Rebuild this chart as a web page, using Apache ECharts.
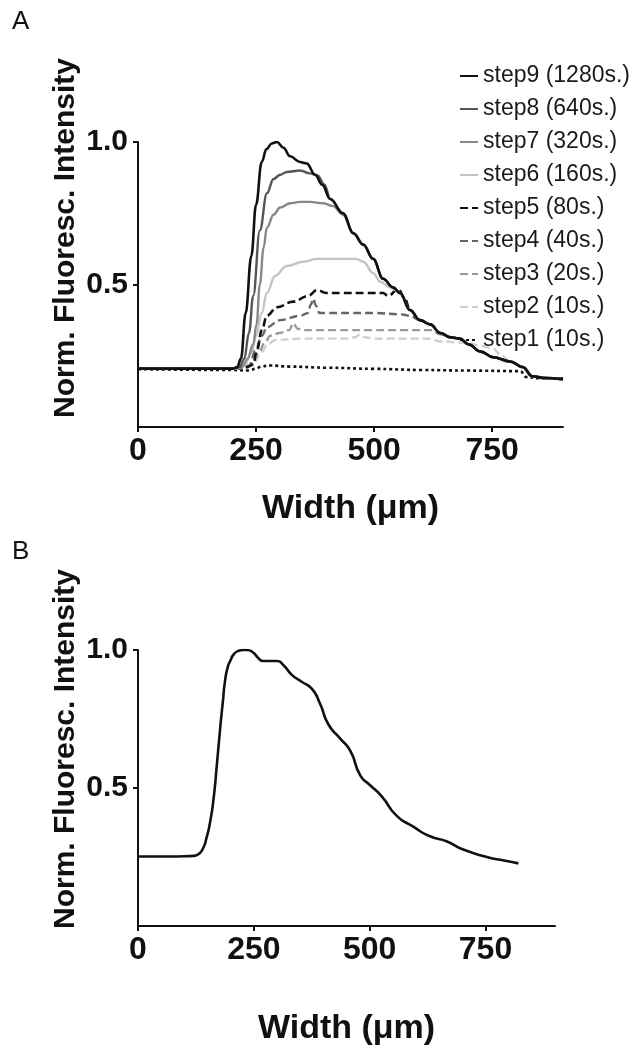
<!DOCTYPE html>
<html><head><meta charset="utf-8">
<script src="https://cdn.jsdelivr.net/npm/echarts@6/dist/echarts.min.js"></script>
<style>html,body{margin:0;padding:0;background:#fff}#c{width:643px;height:1050px}</style>
</head><body><div id="c"></div>
<script>
// ---------- Panel A data (x in µm, y normalized intensity) ----------
const seriesNames = ['step9 (1280s.)','step8 (640s.)','step7 (320s.)','step6 (160s.)','step5 (80s.)','step4 (40s.)','step3 (20s.)','step2 (10s.)','step1 (10s.)'];

const step9X = [0, 100, 200, 210, 218, 228, 240, 250, 262, 272, 283, 294, 308, 322, 343, 357, 375, 390, 407, 434, 456, 477, 498, 519, 540, 555, 576, 597, 619, 640, 661, 682, 700, 725, 752, 788, 815, 835, 860, 900];
const step9Y = [0.205, 0.205, 0.205, 0.21, 0.24, 0.40, 0.60, 0.78, 0.93, 0.975, 0.995, 1.0, 0.98, 0.95, 0.93, 0.925, 0.885, 0.85, 0.80, 0.75, 0.68, 0.64, 0.59, 0.52, 0.49, 0.47, 0.41, 0.375, 0.36, 0.33, 0.315, 0.31, 0.29, 0.265, 0.245, 0.23, 0.21, 0.178, 0.172, 0.168];

const step8X = [0, 200, 215, 225, 235, 244, 258, 273, 287, 301, 315, 343, 364, 380, 395, 407, 434, 456, 477, 498, 519, 540, 555, 576, 597, 619, 640, 661, 682, 700, 725, 752, 788, 815, 835, 860, 900];
const step8Y = [0.205, 0.205, 0.21, 0.24, 0.33, 0.46, 0.69, 0.82, 0.87, 0.885, 0.895, 0.90, 0.89, 0.883, 0.85, 0.80, 0.75, 0.68, 0.64, 0.59, 0.52, 0.49, 0.47, 0.41, 0.375, 0.36, 0.33, 0.315, 0.31, 0.29, 0.265, 0.245, 0.23, 0.21, 0.178, 0.172, 0.168];

const step7X = [0, 205, 220, 232, 244, 251, 258, 266, 273, 287, 301, 322, 343, 364, 392, 413, 434, 456, 477, 498, 519, 540, 555, 576, 597, 619, 640, 661, 682, 700, 725, 752, 788, 815, 835, 860, 900];
const step7Y = [0.205, 0.205, 0.21, 0.24, 0.29, 0.36, 0.50, 0.63, 0.70, 0.745, 0.77, 0.785, 0.79, 0.79, 0.785, 0.775, 0.745, 0.68, 0.64, 0.59, 0.52, 0.49, 0.47, 0.41, 0.375, 0.36, 0.33, 0.315, 0.31, 0.29, 0.265, 0.245, 0.23, 0.21, 0.178, 0.172, 0.168];

const step6X = [0, 210, 225, 240, 250, 262, 273, 290, 315, 350, 379, 428, 462, 477, 498, 513, 534, 545, 555, 576, 597, 619, 640, 661, 682, 700, 725, 752, 788, 815, 835, 860, 900];
const step6Y = [0.205, 0.205, 0.215, 0.26, 0.32, 0.40, 0.47, 0.53, 0.565, 0.58, 0.59, 0.59, 0.59, 0.58, 0.54, 0.51, 0.49, 0.48, 0.47, 0.41, 0.375, 0.36, 0.33, 0.315, 0.31, 0.29, 0.265, 0.245, 0.23, 0.21, 0.178, 0.172, 0.168];

const step5X = [0, 210, 230, 244, 252, 262, 273, 294, 329, 360, 379, 400, 428, 480, 519, 530, 551, 565, 576, 597, 619, 640, 661, 682, 700, 725, 752, 788, 815, 835, 860, 900];
const step5Y = [0.205, 0.205, 0.21, 0.22, 0.27, 0.34, 0.39, 0.42, 0.44, 0.46, 0.48, 0.47, 0.47, 0.47, 0.47, 0.46, 0.485, 0.45, 0.41, 0.375, 0.36, 0.33, 0.315, 0.31, 0.29, 0.265, 0.245, 0.23, 0.21, 0.178, 0.172, 0.168];

const step4X = [0, 215, 235, 251, 262, 273, 301, 343, 360, 366, 371, 377, 384, 400, 450, 500, 560, 576, 597, 619, 640, 661, 682, 700, 725, 752, 788, 815, 835, 860, 900];
const step4Y = [0.205, 0.205, 0.215, 0.28, 0.32, 0.35, 0.375, 0.39, 0.40, 0.43, 0.45, 0.425, 0.40, 0.40, 0.40, 0.40, 0.395, 0.39, 0.375, 0.36, 0.33, 0.315, 0.31, 0.29, 0.265, 0.245, 0.23, 0.21, 0.178, 0.172, 0.168];

const step3X = [0, 220, 240, 255, 270, 280, 300, 320, 329, 338, 350, 380, 420, 500, 560, 620, 640, 661, 682, 700, 725, 752, 788, 815, 835, 860, 900];
const step3Y = [0.205, 0.205, 0.215, 0.26, 0.30, 0.32, 0.33, 0.34, 0.364, 0.345, 0.34, 0.34, 0.34, 0.34, 0.34, 0.34, 0.325, 0.315, 0.31, 0.29, 0.265, 0.245, 0.23, 0.21, 0.178, 0.172, 0.168];

const step2X = [0, 225, 245, 260, 275, 290, 343, 407, 440, 460, 470, 480, 500, 560, 620, 640, 700, 725, 752, 770, 788, 815, 835, 860, 900];
const step2Y = [0.205, 0.205, 0.22, 0.26, 0.29, 0.305, 0.31, 0.31, 0.31, 0.315, 0.325, 0.315, 0.31, 0.31, 0.31, 0.30, 0.295, 0.285, 0.275, 0.25, 0.23, 0.21, 0.178, 0.172, 0.168];

const step1X = [0, 200, 235, 250, 262, 280, 320, 400, 500, 600, 700, 810, 822, 850, 900];
const step1Y = [0.203, 0.2, 0.198, 0.205, 0.213, 0.216, 0.212, 0.208, 0.204, 0.2, 0.198, 0.196, 0.175, 0.171, 0.171];

// ---------- Panel B data ----------
const bX = [0, 60, 120, 130, 140, 148, 156, 163, 170, 177, 183, 188, 194, 199, 207, 217, 226, 235, 249, 260, 270, 285, 300, 314, 332, 353, 375, 393, 411, 436, 458, 480, 501, 526, 558, 594, 630, 667, 702, 753, 790, 821];
const bY = [0.252, 0.252, 0.254, 0.26, 0.28, 0.32, 0.38, 0.46, 0.58, 0.71, 0.81, 0.89, 0.94, 0.96, 0.985, 0.997, 1.0, 1.0, 0.99, 0.97, 0.96, 0.96, 0.96, 0.945, 0.91, 0.885, 0.86, 0.805, 0.73, 0.68, 0.635, 0.545, 0.51, 0.47, 0.40, 0.36, 0.325, 0.306, 0.277, 0.25, 0.237, 0.227];

// ticks
const xTicks = [0, 250, 500, 750];
const yTicks = [0.5, 1.0];

function pairs(xs, ys) { return xs.map((x, i) => [x, ys[i]]); }

const FONT = 'Liberation Sans, Arial, Helvetica, sans-serif';
const styles = {
  'step9 (1280s.)': {color: '#111', width: 2.6, type: 'solid'},
  'step8 (640s.)':  {color: '#555', width: 2.4, type: 'solid'},
  'step7 (320s.)':  {color: '#888', width: 2.4, type: 'solid'},
  'step6 (160s.)':  {color: '#c4c4c4', width: 2.4, type: 'solid'},
  'step5 (80s.)':   {color: '#111', width: 2.6, type: [8, 4]},
  'step4 (40s.)':   {color: '#666', width: 2.4, type: [8, 4]},
  'step3 (20s.)':   {color: '#9a9a9a', width: 2.4, type: [8, 4]},
  'step2 (10s.)':   {color: '#cfcfcf', width: 2.4, type: [8, 4]},
  'step1 (10s.)':   {color: '#111', width: 2.6, type: [3, 3]}
};
const dataA = {
  'step9 (1280s.)': pairs(step9X, step9Y),
  'step8 (640s.)': pairs(step8X, step8Y),
  'step7 (320s.)': pairs(step7X, step7Y),
  'step6 (160s.)': pairs(step6X, step6Y),
  'step5 (80s.)': pairs(step5X, step5Y),
  'step4 (40s.)': pairs(step4X, step4Y),
  'step3 (20s.)': pairs(step3X, step3Y),
  'step2 (10s.)': pairs(step2X, step2Y),
  'step1 (10s.)': pairs(step1X, step1Y)
};

const drawOrder = seriesNames.slice().reverse(); // step1 first, step9 on top
const seriesA = drawOrder.map(n => ({
  name: n, type: 'line', xAxisIndex: 0, yAxisIndex: 0,
  data: dataA[n], symbol: 'none', smooth: 0.4, smoothMonotone: 'x',
  lineStyle: {color: styles[n].color, width: styles[n].width, type: styles[n].type},
  itemStyle: {color: styles[n].color},
  emphasis: {disabled: true}, animation: false
}));
const seriesB = [{
  name: 'B', type: 'line', xAxisIndex: 1, yAxisIndex: 1,
  data: pairs(bX, bY), symbol: 'none', smooth: 0.6,
  lineStyle: {color: '#111', width: 2.6}, itemStyle: {color: '#111'}, animation: false
}];

function xAxisCfg(idx, gap) {
  return {
    type: 'value', gridIndex: idx, min: 0, max: 900, interval: 250,
    name: 'Width (μm)', nameLocation: 'middle', nameGap: gap,
    nameTextStyle: {fontFamily: FONT, fontWeight: 'bold', fontSize: 34, color: '#111'},
    axisLine: {show: true, onZero: false, lineStyle: {color: '#111', width: 2}},
    axisTick: {show: true, length: 5, lineStyle: {color: '#111', width: 2}, customValues: xTicks},
    axisLabel: {fontFamily: FONT, fontWeight: 'bold', fontSize: 32, color: '#111', margin: 8, customValues: xTicks},
    splitLine: {show: false}
  };
}
function yAxisCfg(idx) {
  return {
    type: 'value', gridIndex: idx, min: 0, max: 1, interval: 0.5,
    axisLine: {show: true, onZero: false, lineStyle: {color: '#111', width: 2}},
    axisTick: {show: true, length: 5, lineStyle: {color: '#111', width: 2}, customValues: yTicks},
    axisLabel: {fontFamily: FONT, fontWeight: 'bold', fontSize: 30, color: '#111', margin: 10,
      customValues: yTicks, formatter: v => v === 0 ? '' : v.toFixed(1)},
    splitLine: {show: false}
  };
}

const chart = echarts.init(document.getElementById('c'), null, {renderer: 'canvas'});
chart.setOption({
  backgroundColor: '#fff',
  animation: false,
  grid: [
    {left: 138, top: 142, width: 425, height: 285},
    {left: 138, top: 650, width: 417, height: 276}
  ],
  xAxis: [xAxisCfg(0, 65), xAxisCfg(1, 86)],
  yAxis: [yAxisCfg(0), yAxisCfg(1)],
  legend: {
    data: seriesNames, orient: 'vertical', left: 459, top: 64, padding: 0,
    itemWidth: 18, itemHeight: 12, itemGap: 9,
    itemStyle: {opacity: 0, borderWidth: 0},
    textStyle: {fontFamily: FONT, fontSize: 23, color: '#1a1a1a', lineHeight: 24},
    selectedMode: false
  },
  graphic: [
    {type: 'text', left: 12, top: 9, style: {text: 'A', fontFamily: FONT, fontSize: 26, fill: '#111'}},
    {type: 'text', left: 12, top: 539, style: {text: 'B', fontFamily: FONT, fontSize: 26, fill: '#111'}},
    {type: 'text', x: 66, y: 238, rotation: Math.PI / 2,
      style: {text: 'Norm. Fluoresc. Intensity', fontFamily: FONT, fontWeight: 'bold', fontSize: 30, fill: '#111', align: 'center', verticalAlign: 'middle'}},
    {type: 'text', x: 66, y: 749, rotation: Math.PI / 2,
      style: {text: 'Norm. Fluoresc. Intensity', fontFamily: FONT, fontWeight: 'bold', fontSize: 30, fill: '#111', align: 'center', verticalAlign: 'middle'}}
  ],
  series: seriesA.concat(seriesB)
});
</script></body></html>
